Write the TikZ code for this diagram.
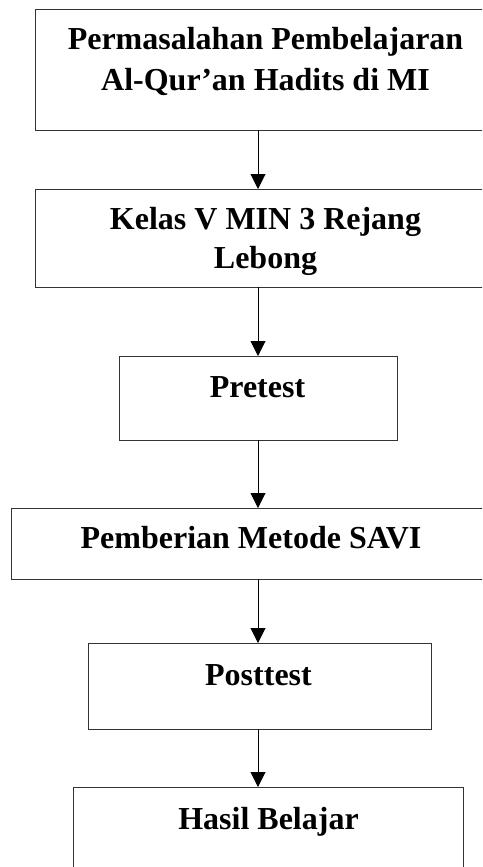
\documentclass[tikz,border=0pt]{standalone}
\usepackage{fontspec}
\setmainfont{Liberation Serif}
\usetikzlibrary{arrows.meta}
\begin{document}
\begin{tikzpicture}[x=1pt,y=-1pt,
  box/.style={draw=black!80,line width=1pt,inner sep=0pt,outer sep=0pt,rectangle},
  lbl/.style={anchor=base,inner sep=0pt,font=\fontsize{32}{40}\selectfont\bfseries},
  arr/.style={draw=black,line width=1pt,-{Triangle[width=15pt,length=15pt]}}]
\useasboundingbox (0,0) rectangle (482,867);
\clip (0,0) rectangle (482,867);
\coordinate (ax) at (258,0);
\node[box,minimum width=461pt,minimum height=120pt] (b1) at (265.5,70) {};
\node[box,minimum width=461pt,minimum height=98pt] (b2) at (265.5,238) {};
\node[box,minimum width=278pt,minimum height=84pt] (b3) at (258,398) {};
\node[box,minimum width=480pt,minimum height=71pt] (b4) at (251,543.5) {};
\node[box,minimum width=343pt,minimum height=86pt] (b5) at (259.5,686) {};
\node[box,minimum width=390pt,minimum height=100pt] (b6) at (268,837) {};
\node[lbl] (t1a) at (265.5,50) {Permasalahan Pembelajaran};
\node[lbl] (t1b) at (265.5,90) {Al-Qur’an Hadits di MI};
\node[lbl] (t2a) at (265.5,229) {Kelas V MIN 3 Rejang};
\node[lbl] (t2b) at (265.5,268) {Lebong};
\node[lbl] (t3) at (257.5,397) {Pretest};
\node[lbl] (t4) at (251,548) {Pemberian Metode SAVI};
\node[lbl] (t5) at (258.5,685) {Posttest};
\node[lbl] (t6) at (268.5,829) {Hasil Belajar};
\draw[arr] (b1.south -| ax) -- (b2.north -| ax);
\draw[arr] (b2.south -| ax) -- (b3.north -| ax);
\draw[arr] (b3.south -| ax) -- (b4.north -| ax);
\draw[arr] (b4.south -| ax) -- (b5.north -| ax);
\draw[arr] (b5.south -| ax) -- (b6.north -| ax);
\end{tikzpicture}
\end{document}
